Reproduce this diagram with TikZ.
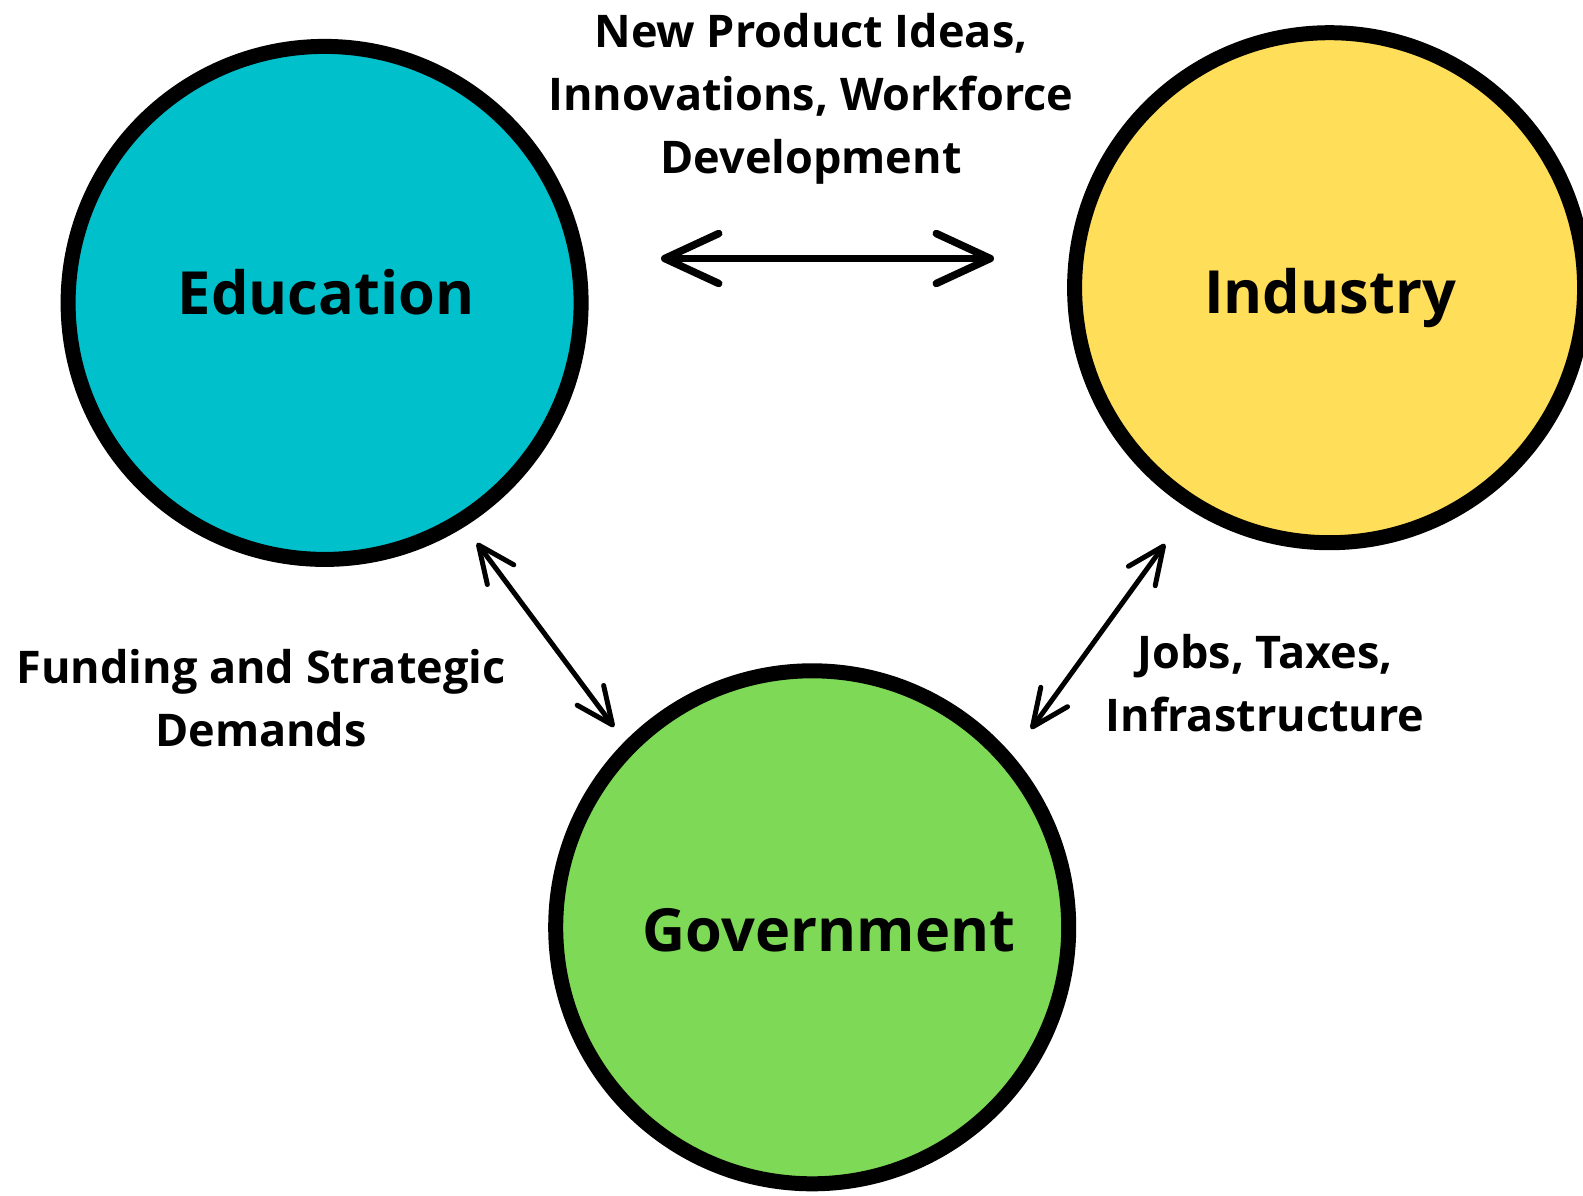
\documentclass[tikz,border=0pt]{standalone}
\usepackage{fontspec}
\setmainfont{Open Sans}
\usetikzlibrary{arrows.meta}
\definecolor{eduC}{HTML}{00C1CB}
\definecolor{indC}{HTML}{FFDE59}
\definecolor{govC}{HTML}{7ED957}
\begin{document}
\begin{tikzpicture}[x=1pt,y=-1pt,
  hub/.style={circle, draw=black, line width=15pt, inner sep=0pt, minimum size=513pt},
  hubtext/.style={font=\fontsize{59.5}{60}\selectfont\bfseries, anchor=base, inner sep=0pt},
  lab/.style={font=\fontsize{45}{63}\selectfont\bfseries, align=center, inner sep=0pt, anchor=base},
  link/.style={line width=5pt, line cap=round,
    {Straight Barb[length=37pt,width=33pt,round]}-{Straight Barb[length=37pt,width=33pt,round]}},
  biglink/.style={line width=7.5pt, line cap=round,
    {Straight Barb[length=54pt,width=50pt,round]}-{Straight Barb[length=54pt,width=50pt,round]}}
]
\useasboundingbox[fill=white] (0,0) rectangle (1583,1195);
% hubs
\node[hub, fill=eduC] (edu) at (324.6,302.9) {};
\node[hub, fill=indC, minimum size=510pt] (ind) at (1329.6,287.7) {};
\node[hub, fill=govC] (gov) at (812.2,927.3) {};
\node[hubtext] (edut) at (326,314) {Education};
\node[hubtext] (indt) at (1330,313) {Industry};
\node[hubtext] (govt) at (829,951) {Government};
% labels
\node[lab] (top) at (811,173) {New Product Ideas,\\Innovations, Workforce\\Development};
\node[lab] (left) at (261,746) {Funding and Strategic\\Demands};
\node[lab] (right) at (1265,731) {Jobs, Taxes,\\Infrastructure};
% connector ends
\coordinate (eiA) at (661,258.5);
\coordinate (eiB) at (994,258.5);
\coordinate (egA) at (477,543);
\coordinate (egB) at (614,727);
\coordinate (igA) at (1165,544);
\coordinate (igB) at (1031,729);
\draw[biglink] (eiA) -- (eiB);
\draw[link] (egA) -- (egB);
\draw[link] (igA) -- (igB);
\end{tikzpicture}
\end{document}
